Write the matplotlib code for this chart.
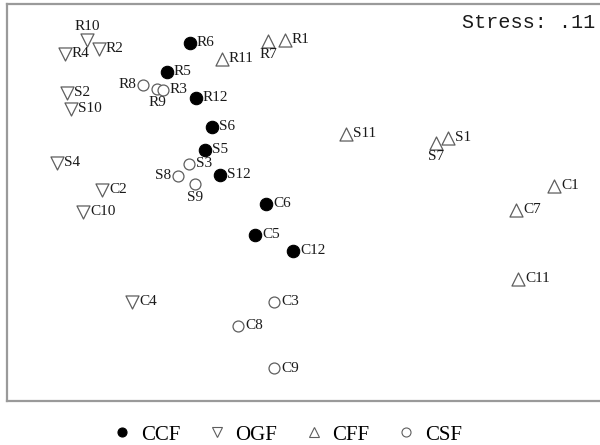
import matplotlib
matplotlib.use("Agg")
import matplotlib.pyplot as plt
from matplotlib.lines import Line2D

# NMDS ordination scores per forest type
ccf_labels = ["R6", "R5", "R12", "S6", "S5", "S12", "C6", "C5", "C12"]
ccf_x = [-1.10, -1.33, -1.04, -0.88, -0.95, -0.80, -0.34, -0.45, -0.07]
ccf_y = [1.57, 1.28, 1.02, 0.73, 0.50, 0.25, -0.04, -0.35, -0.51]

ogf_labels = ["R10", "R4", "R2", "S2", "S10", "S4", "C2", "C10", "C4"]
ogf_x = [-2.13, -2.35, -2.01, -2.33, -2.29, -2.43, -1.98, -2.17, -1.68]
ogf_y = [1.60, 1.46, 1.51, 1.07, 0.91, 0.37, 0.10, -0.12, -1.02]

cff_labels = ["R7", "R1", "R11", "S11", "S7", "S1", "C1", "C7", "C11"]
cff_x = [-0.32, -0.15, -0.78, 0.46, 1.36, 1.48, 2.54, 2.16, 2.18]
cff_y = [1.59, 1.60, 1.41, 0.66, 0.57, 0.62, 0.14, -0.10, -0.79]

csf_labels = ["R8", "R9", "R3", "S3", "S8", "S9", "C3", "C8", "C9"]
csf_x = [-1.57, -1.43, -1.37, -1.11, -1.22, -1.05, -0.26, -0.62, -0.26]
csf_y = [1.15, 1.11, 1.10, 0.36, 0.24, 0.16, -1.02, -1.26, -1.68]

group_names = ["CCF", "OGF", "CFF", "CSF"]
stress_value = ".11"

# label placement: default to the right of the marker
label_side = {"R10": "above", "R7": "below", "S7": "below", "R9": "below",
              "S9": "below", "R8": "left", "S8": "left"}

fig = plt.figure(figsize=(6.0, 4.45), dpi=100)
ax = fig.add_axes([7 / 600, 1 - 401 / 445, 1 - 7 / 600, 397 / 445])
ax.set_xlim(-2.93, 3.0)
ax.set_ylim(-2.01, 1.96)
ax.set_xticks([])
ax.set_yticks([])
for side in ["left", "top", "bottom"]:
    ax.spines[side].set_color("#9a9a9a")
    ax.spines[side].set_linewidth(1.6)
ax.spines["right"].set_visible(False)

edge = "#5e5e5e"
styles = [
    dict(marker="o", facecolor="black", edgecolor="black", s=80, linewidths=0.8),
    dict(marker="v", facecolor="white", edgecolor=edge, s=88, linewidths=0.9),
    dict(marker="^", facecolor="white", edgecolor=edge, s=88, linewidths=0.9),
    dict(marker="o", facecolor="white", edgecolor=edge, s=62, linewidths=0.9),
]
groups = [
    (ccf_labels, ccf_x, ccf_y),
    (ogf_labels, ogf_x, ogf_y),
    (cff_labels, cff_x, cff_y),
    (csf_labels, csf_x, csf_y),
]

label_font = dict(family="Liberation Serif", fontsize=11, color="#1a1a1a")
for (labels, xs, ys), st in zip(groups, styles):
    ax.scatter(xs, ys, zorder=3, **st)
    for lab, x, y in zip(labels, xs, ys):
        side = label_side.get(lab, "right")
        if side == "right":
            ax.annotate(lab, (x, y), xytext=(5, 0), textcoords="offset points",
                        ha="left", va="center", **label_font)
        elif side == "left":
            ax.annotate(lab, (x, y), xytext=(-5, 0), textcoords="offset points",
                        ha="right", va="center", **label_font)
        elif side == "below":
            ax.annotate(lab, (x, y), xytext=(0, -5), textcoords="offset points",
                        ha="center", va="top", **label_font)
        else:
            ax.annotate(lab, (x, y), xytext=(0, 5), textcoords="offset points",
                        ha="center", va="bottom", **label_font)

fig.text(0.992, 1 - 23 / 445, "Stress: " + stress_value, ha="right", va="center",
         family="Liberation Mono", fontsize=14.5, color="#1a1a1a")

handles = []
for st, name in zip(styles, group_names):
    handles.append(Line2D([], [], linestyle="none", marker=st["marker"],
                          markerfacecolor=st["facecolor"],
                          markeredgecolor=st["edgecolor"],
                          markersize=6.5, markeredgewidth=0.8, label=name))
fig.legend(handles=handles, loc="center", bbox_to_anchor=(0.478, 1 - 435 / 445),
           ncol=4, frameon=False, handlelength=1.0, handletextpad=0.4,
           columnspacing=1.25, borderpad=0,
           prop=dict(family="Liberation Serif", size=15))

fig.savefig("out.png", dpi=100, facecolor="white")
